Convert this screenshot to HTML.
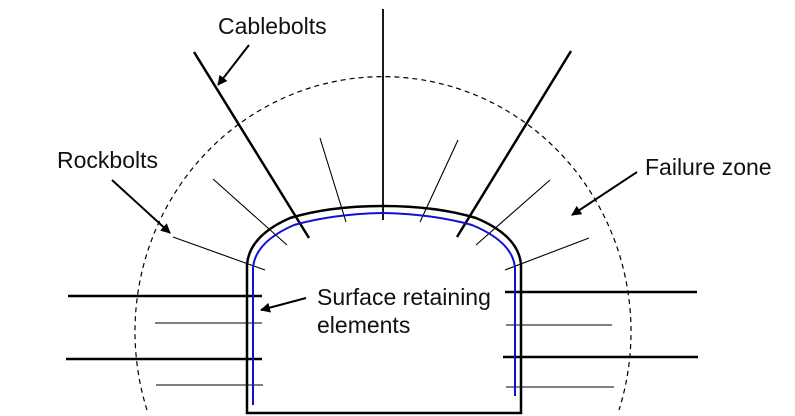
<!DOCTYPE html>
<html><head><meta charset="utf-8"><style>
html,body{margin:0;padding:0;background:#fff;}
svg{display:block;}
text{font-family:"Liberation Sans",Arial,sans-serif;font-size:23px;fill:#111;}
</style></head><body>
<svg width="795" height="416" viewBox="0 0 795 416" xmlns="http://www.w3.org/2000/svg">
<defs>
<marker id="ah" markerWidth="10" markerHeight="10" refX="9" refY="5" orient="auto" markerUnits="userSpaceOnUse">
<path d="M0,0 L10,5 L0,10 Z" fill="#000"/></marker>
</defs>
<path d="M147,410 A248,255 0 1 1 619,410" fill="none" stroke="#000" stroke-width="1.2" stroke-dasharray="5,4"/>
<g stroke="#000" stroke-width="1.1">
<line x1="213" y1="179" x2="287" y2="245"/>
<line x1="173" y1="237" x2="265" y2="270"/>
<line x1="320" y1="138" x2="346" y2="222"/>
<line x1="458" y1="140" x2="420" y2="222"/>
<line x1="550" y1="180" x2="476" y2="245"/>
<line x1="589" y1="238" x2="505" y2="270"/>
<line x1="155" y1="323" x2="262" y2="323"/>
<line x1="156" y1="385" x2="263" y2="385"/>
<line x1="506" y1="325" x2="612" y2="325"/>
<line x1="506" y1="387" x2="614" y2="387"/>
</g>
<g stroke="#000" stroke-width="2.5">
<line x1="194" y1="52" x2="309" y2="238"/>
<line x1="571" y1="51" x2="457" y2="237"/>
<line x1="68" y1="296" x2="262" y2="296"/>
<line x1="66" y1="359" x2="262" y2="359"/>
<line x1="505" y1="292" x2="697" y2="292"/>
<line x1="503" y1="357" x2="698" y2="357"/>
</g>
<line x1="383" y1="9" x2="383" y2="220" stroke="#000" stroke-width="1.8"/>
<path d="M247,413 V265 Q249,236 290,218 Q330,206 383,206 Q436,206 476,218 Q519,236 521,265 V413 Z" fill="none" stroke="#000" stroke-width="2.5"/>
<path d="M253,405 V268 Q255,242 294,225 Q333,214 383,213 Q433,214 472,225 Q513,242 515,268 V396" fill="none" stroke="#1010d0" stroke-width="2"/>
<text x="218" y="34">Cablebolts</text>
<text x="57" y="168">Rockbolts</text>
<text x="645" y="175">Failure zone</text>
<text x="317" y="305">Surface retaining</text>
<text x="317" y="333">elements</text>
<g stroke="#000" stroke-width="2" fill="none">
<line x1="249" y1="45" x2="218" y2="85" marker-end="url(#ah)"/>
<line x1="112" y1="180" x2="170" y2="233" marker-end="url(#ah)"/>
<line x1="637" y1="172" x2="572" y2="215" marker-end="url(#ah)"/>
<line x1="306" y1="298" x2="261" y2="310" marker-end="url(#ah)"/>
</g>
</svg>
</body></html>
